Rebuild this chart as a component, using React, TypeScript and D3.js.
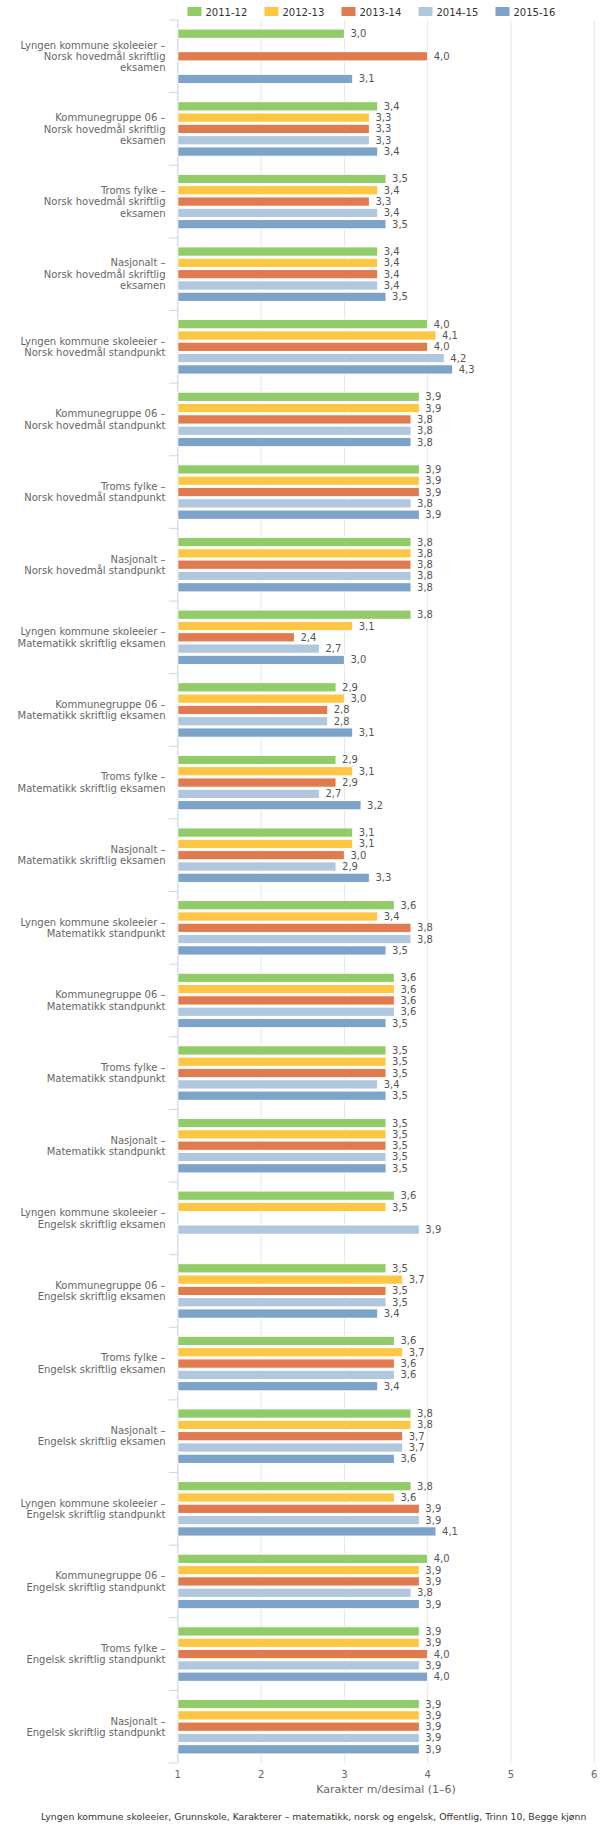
import React from "react";
import * as d3 from "d3";

const seriesNames = ["2011-12", "2012-13", "2013-14", "2014-15", "2015-16"];
const seriesColors = ["#91cc68", "#fdc645", "#df7b4e", "#b1c7de", "#7da3c9"];

const categories = [
  "Lyngen kommune skoleeier –\nNorsk hovedmål skriftlig\neksamen",
  "Kommunegruppe 06 –\nNorsk hovedmål skriftlig\neksamen",
  "Troms fylke –\nNorsk hovedmål skriftlig\neksamen",
  "Nasjonalt –\nNorsk hovedmål skriftlig\neksamen",
  "Lyngen kommune skoleeier –\nNorsk hovedmål standpunkt",
  "Kommunegruppe 06 –\nNorsk hovedmål standpunkt",
  "Troms fylke –\nNorsk hovedmål standpunkt",
  "Nasjonalt –\nNorsk hovedmål standpunkt",
  "Lyngen kommune skoleeier –\nMatematikk skriftlig eksamen",
  "Kommunegruppe 06 –\nMatematikk skriftlig eksamen",
  "Troms fylke –\nMatematikk skriftlig eksamen",
  "Nasjonalt –\nMatematikk skriftlig eksamen",
  "Lyngen kommune skoleeier –\nMatematikk standpunkt",
  "Kommunegruppe 06 –\nMatematikk standpunkt",
  "Troms fylke –\nMatematikk standpunkt",
  "Nasjonalt –\nMatematikk standpunkt",
  "Lyngen kommune skoleeier –\nEngelsk skriftlig eksamen",
  "Kommunegruppe 06 –\nEngelsk skriftlig eksamen",
  "Troms fylke –\nEngelsk skriftlig eksamen",
  "Nasjonalt –\nEngelsk skriftlig eksamen",
  "Lyngen kommune skoleeier –\nEngelsk skriftlig standpunkt",
  "Kommunegruppe 06 –\nEngelsk skriftlig standpunkt",
  "Troms fylke –\nEngelsk skriftlig standpunkt",
  "Nasjonalt –\nEngelsk skriftlig standpunkt",
];

const s2011_12 = [3.0, 3.4, 3.5, 3.4, 4.0, 3.9, 3.9, 3.8, 3.8, 2.9, 2.9, 3.1, 3.6, 3.6, 3.5, 3.5, 3.6, 3.5, 3.6, 3.8, 3.8, 4.0, 3.9, 3.9];
const s2012_13 = [null, 3.3, 3.4, 3.4, 4.1, 3.9, 3.9, 3.8, 3.1, 3.0, 3.1, 3.1, 3.4, 3.6, 3.5, 3.5, 3.5, 3.7, 3.7, 3.8, 3.6, 3.9, 3.9, 3.9];
const s2013_14 = [4.0, 3.3, 3.3, 3.4, 4.0, 3.8, 3.9, 3.8, 2.4, 2.8, 2.9, 3.0, 3.8, 3.6, 3.5, 3.5, null, 3.5, 3.6, 3.7, 3.9, 3.9, 4.0, 3.9];
const s2014_15 = [null, 3.3, 3.4, 3.4, 4.2, 3.8, 3.8, 3.8, 2.7, 2.8, 2.7, 2.9, 3.8, 3.6, 3.4, 3.5, 3.9, 3.5, 3.6, 3.7, 3.9, 3.8, 3.9, 3.9];
const s2015_16 = [3.1, 3.4, 3.5, 3.5, 4.3, 3.8, 3.9, 3.8, 3.0, 3.1, 3.2, 3.3, 3.5, 3.5, 3.5, 3.5, null, 3.4, 3.4, 3.6, 4.1, 3.9, 4.0, 3.9];

const seriesValues: (number | null)[][] = [s2011_12, s2012_13, s2013_14, s2014_15, s2015_16];

const xTicks = [1, 2, 3, 4, 5, 6];
const xTitle = "Karakter m/desimal (1–6)";
const footer = "Lyngen kommune skoleeier, Grunnskole, Karakterer – matematikk, norsk og engelsk, Offentlig, Trinn 10, Begge kjønn";

const W = 609;
const H = 1837;
const FONT = "'DejaVu Sans', Verdana, sans-serif";

export default function App() {
  const left = 177.8;
  const right = 594.3;
  const top = 20;
  const bottom = 1763;

  const x = d3.scaleLinear().domain([1, 6]).range([left, right]);
  const y = d3
    .scaleBand<number>()
    .domain(categories.map((_, i) => i))
    .range([top, bottom])
    .paddingInner(0)
    .paddingOuter(0);
  const inner = d3
    .scaleBand<number>()
    .domain(seriesNames.map((_, i) => i))
    .range([0, y.bandwidth()])
    .paddingInner(0.18)
    .paddingOuter(0.8);

  const fmt = (v: number) => d3.format(".1f")(v).replace(".", ",");
  const lineH = 11.4;
  const legendStep = 77;
  const legendX0 = 187.5;

  return (
    <div style={{ position: "absolute", left: 0, top: 0 }}>
      <svg width={W} height={H} style={{ display: "block", fontFamily: FONT }}>
        <rect width={W} height={H} fill="#fff" />
        {/* legend */}
        {seriesNames.map((n, i) => (
          <g key={n} transform={`translate(${legendX0 + i * legendStep},0)`}>
            <rect x={0} y={7} width={14} height={9} fill={seriesColors[i]} />
            <text x={18} y={15.5} fontSize={10} fill="#333">
              {n}
            </text>
          </g>
        ))}
        {/* gridlines */}
        {xTicks.map((t) => (
          <line key={t} x1={x(t)} x2={x(t)} y1={top} y2={bottom} stroke="#e6e6e6" strokeWidth={1} />
        ))}
        {/* y axis line */}
        <line x1={left} x2={left} y1={top} y2={bottom} stroke="#ccd6eb" strokeWidth={1} />
        {categories.map((_, i) => (
          <line key={"t" + i} x1={left - 9} x2={left} y1={y(i)!} y2={y(i)!} stroke="#ccd6eb" strokeWidth={1} />
        ))}
        <line x1={left - 9} x2={left} y1={bottom} y2={bottom} stroke="#ccd6eb" strokeWidth={1} />
        {/* category labels */}
        {categories.map((c, i) => {
          const lines = c.split("\n");
          const cy = y(i)! + y.bandwidth() / 2;
          return (
            <text key={"c" + i} textAnchor="end" fontSize={10} fill="#666">
              {lines.map((l, j) => (
                <tspan key={j} x={165.5} y={cy + (j - (lines.length - 1) / 2) * lineH + 3.6}>
                  {l}
                </tspan>
              ))}
            </text>
          );
        })}
        {/* bars */}
        {seriesValues.map((vals, si) =>
          vals.map((v, ci) => {
            if (v === null) return null;
            const by = y(ci)! + inner(si)!;
            const bh = inner.bandwidth();
            return (
              <g key={si + "-" + ci}>
                <rect
                  x={x(1)}
                  y={by}
                  width={x(v) - x(1)}
                  height={bh}
                  fill={seriesColors[si]}
                  stroke="#fff"
                  strokeWidth={1}
                />
                <text x={x(v) + 6} y={by + bh / 2 + 3.5} fontSize={10} fill="#555">
                  {fmt(v)}
                </text>
              </g>
            );
          })
        )}
        {/* x tick labels */}
        {xTicks.map((t) => (
          <text key={"x" + t} x={x(t)} y={1778} textAnchor="middle" fontSize={10} fill="#666">
            {t}
          </text>
        ))}
        <text x={(left + right) / 2} y={1793} textAnchor="middle" fontSize={11} fill="#666">
          {xTitle}
        </text>
        <text x={313.7} y={1820} textAnchor="middle" fontSize={9.3} fill="#333">
          {footer}
        </text>
      </svg>
    </div>
  );
}
